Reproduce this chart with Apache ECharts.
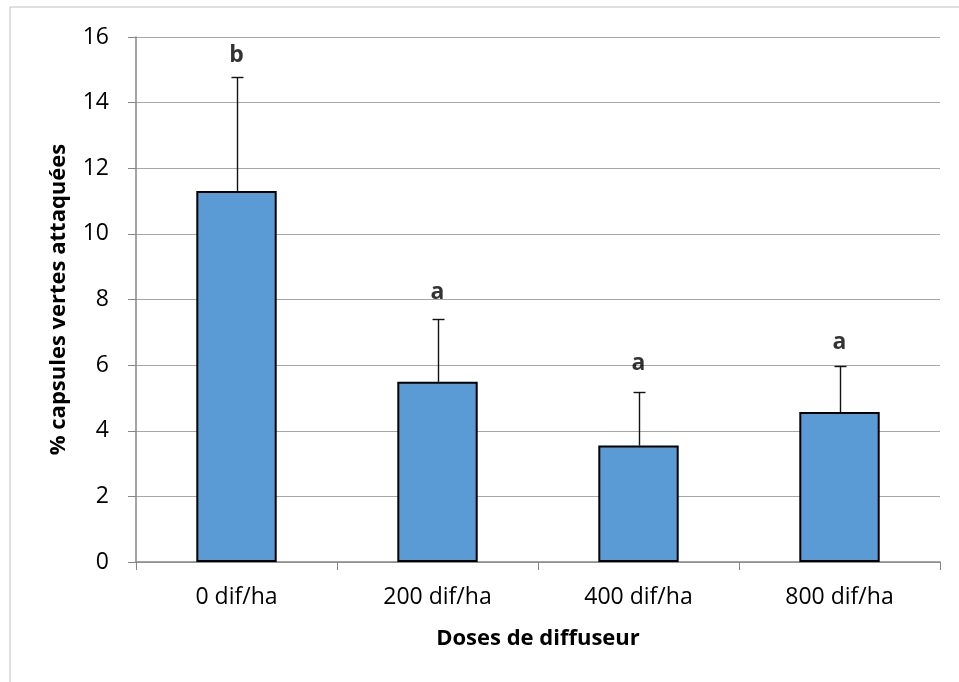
<!DOCTYPE html>
<html>
<head>
<meta charset="utf-8">
<script src="https://cdn.jsdelivr.net/npm/echarts@6/dist/echarts.min.js"></script>
<style>
  html, body { margin: 0; padding: 0; background: #fff; }
  #chart { width: 959px; height: 682px; }
</style>
</head>
<body>
<div id="chart"></div>
<script>
// données
var categories = ["0 dif/ha", "200 dif/ha", "400 dif/ha", "800 dif/ha"];
var means = [11.31, 5.49, 3.55, 4.57];
var errTop = [14.78, 7.41, 5.19, 5.98];   // haut de la barre d'erreur
var letters = ["b", "a", "a", "a"];
var letterPos = [15.44, 8.2, 6.04, 6.68];  // position verticale des lettres
var yTicks = { min: 0, max: 16, interval: 2 };

var font = "'Open Sans', 'Noto Sans', sans-serif";

var chart = echarts.init(document.getElementById("chart"));

var option = {
  animation: false,
  backgroundColor: "#fff",
  grid: { left: 136, right: 19, top: 37, bottom: 120 },
  graphic: [
    {
      type: "rect",
      shape: { x: 10, y: 7, width: 1200, height: 1200 },
      style: { fill: null, stroke: "#bfbfbf", lineWidth: 1 },
      silent: true
    }
  ],
  xAxis: {
    type: "category",
    data: categories,
    name: "Doses de diffuseur",
    nameLocation: "middle",
    nameGap: 66,
    nameTextStyle: { fontFamily: font, fontWeight: "bold", fontSize: 22, color: "#000" },
    axisLine: { lineStyle: { color: "#868686", width: 1.5 } },
    axisTick: { show: true, length: 8, lineStyle: { color: "#868686" } },
    axisLabel: { fontFamily: font, fontSize: 23, color: "#000", margin: 24 },
    splitLine: { show: false }
  },
  yAxis: {
    type: "value",
    min: yTicks.min,
    max: yTicks.max,
    interval: yTicks.interval,
    name: "% capsules vertes attaquées",
    nameLocation: "middle",
    nameGap: 66,
    nameTextStyle: { fontFamily: font, fontWeight: "bold", fontSize: 22, color: "#000" },
    axisLine: { show: true, lineStyle: { color: "#868686", width: 1.5 } },
    axisTick: { show: true, length: 8, lineStyle: { color: "#868686" } },
    axisLabel: { fontFamily: font, fontSize: 23, color: "#000", margin: 27 },
    splitLine: { lineStyle: { color: "#a6a6a6", width: 1 } }
  },
  series: [
    {
      type: "bar",
      data: means,
      barWidth: "40%",
      itemStyle: { color: "#5b9bd5", borderColor: "#000", borderWidth: 2 },
      z: 3
    },
    {
      // barre d'erreur (seulement vers le haut)
      type: "custom",
      z: 2,
      data: categories.map(function (c, i) { return [i, means[i], errTop[i]]; }),
      renderItem: function (params, api) {
        var base = api.coord([api.value(0), api.value(1)]);
        var top = api.coord([api.value(0), api.value(2)]);
        var x = Math.round(base[0]) + 0.5;
        var ty = Math.round(top[1]) + 0.5;
        var style = { stroke: "#111", lineWidth: 1.4 };
        return {
          type: "group",
          children: [
            { type: "line", shape: { x1: x, y1: base[1], x2: x, y2: ty }, style: style },
            { type: "line", shape: { x1: x - 6, y1: ty, x2: x + 6, y2: ty }, style: style }
          ]
        };
      }
    },
    {
      type: "scatter",
      data: letterPos,
      symbolSize: 0,
      silent: true,
      label: {
        show: true,
        position: "inside",
        formatter: function (p) { return letters[p.dataIndex]; },
        fontFamily: font,
        fontWeight: "bold",
        fontSize: 23,
        color: "#000"
      }
    }
  ]
};

chart.setOption(option);
</script>
</body>
</html>
